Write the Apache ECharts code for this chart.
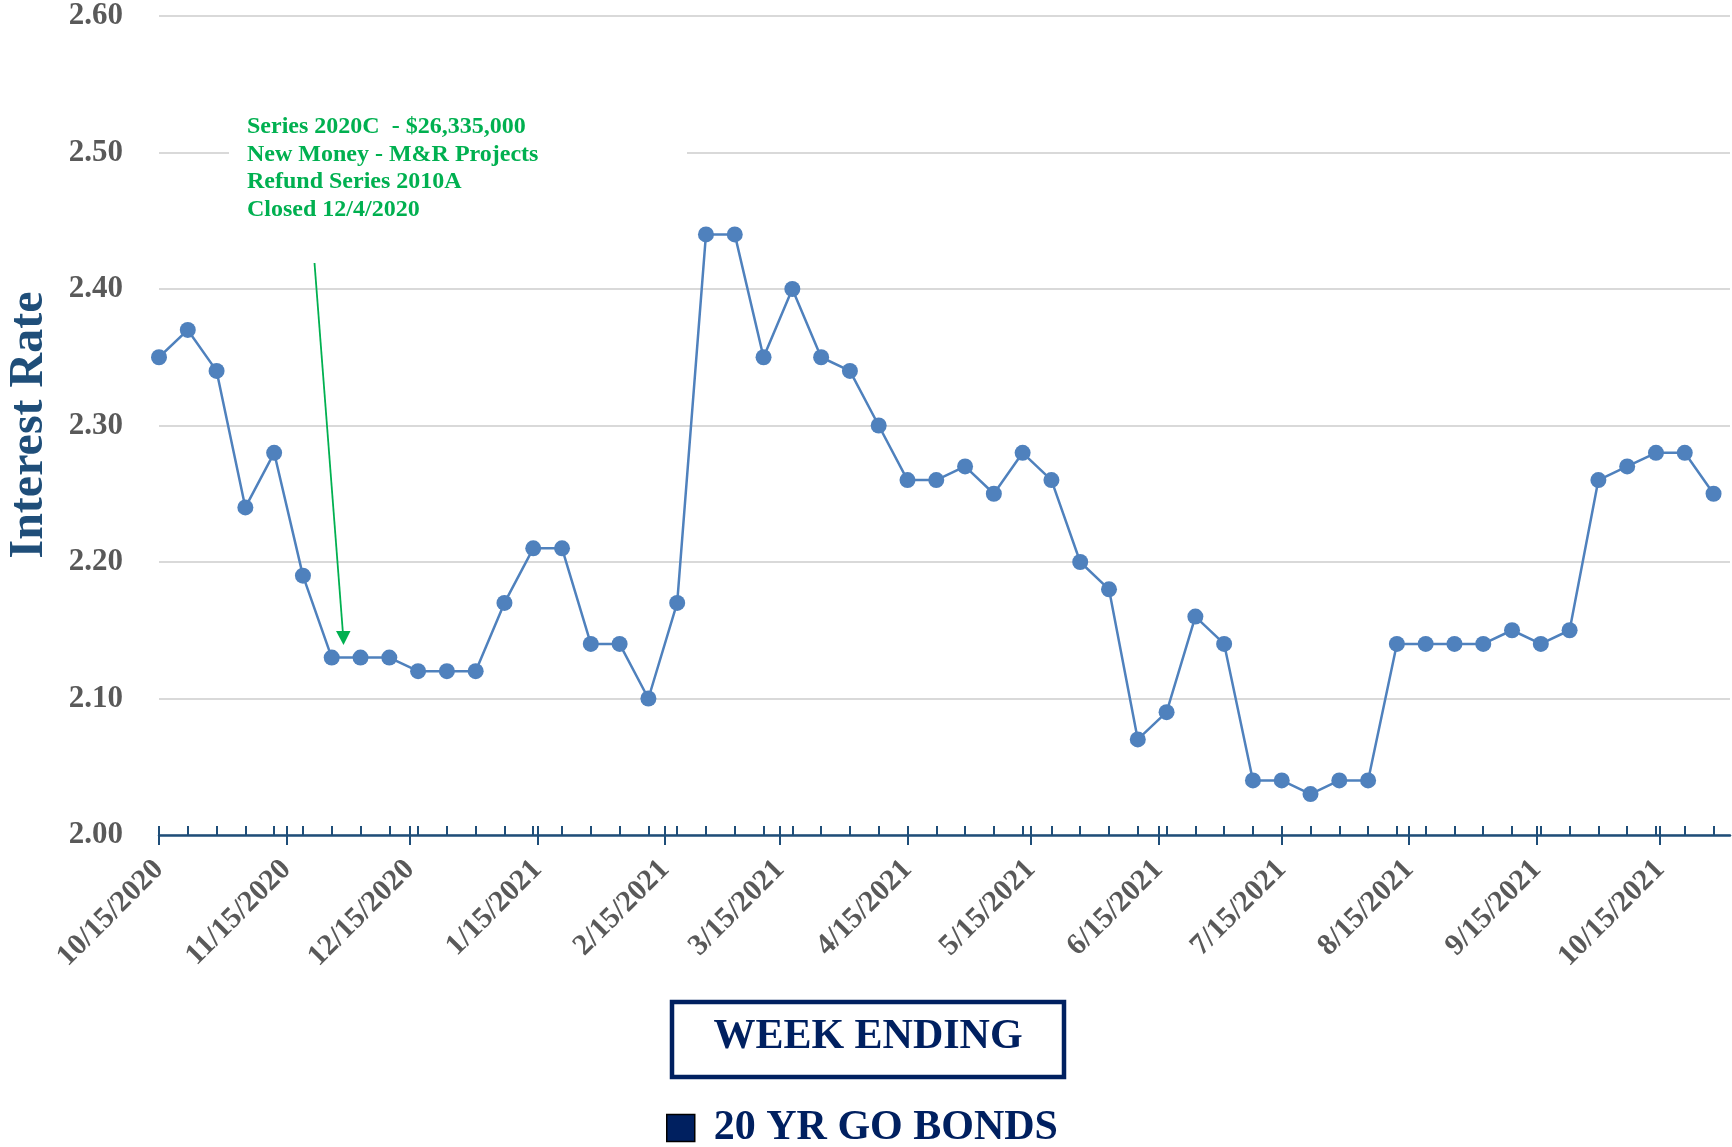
<!DOCTYPE html>
<html>
<head>
<meta charset="utf-8">
<script src="https://cdn.jsdelivr.net/npm/echarts@6/dist/echarts.min.js"></script>
<style>
html, body { margin: 0; padding: 0; background: #fff; }
#chart { width: 1732px; height: 1147px; }
</style>
</head>
<body>
<div id="chart"></div>
<script>
// weekly 20 yr GO bond rates, week ending thursdays starting 10/15/2020
const rates = [
  2.35, 2.37, 2.34, 2.24, 2.28, 2.19, 2.13, 2.13, 2.13, 2.12,
  2.12, 2.12, 2.17, 2.21, 2.21, 2.14, 2.14, 2.10, 2.17, 2.44,
  2.44, 2.35, 2.40, 2.35, 2.34, 2.30, 2.26, 2.26, 2.27, 2.25,
  2.28, 2.26, 2.20, 2.18, 2.07, 2.09, 2.16, 2.14, 2.04, 2.04,
  2.03, 2.04, 2.04, 2.14, 2.14, 2.14, 2.14, 2.15, 2.14, 2.15,
  2.26, 2.27, 2.28, 2.28, 2.25
];
const monthTicks = [
  '10/15/2020', '11/15/2020', '12/15/2020', '1/15/2021', '2/15/2021',
  '3/15/2021', '4/15/2021', '5/15/2021', '6/15/2021', '7/15/2021',
  '8/15/2021', '9/15/2021', '10/15/2021'
];
const yTicks = [2.00, 2.10, 2.20, 2.30, 2.40, 2.50, 2.60];
const noteLines = [
  'Series 2020C  - $26,335,000',
  'New Money - M&R Projects',
  'Refund Series 2010A',
  'Closed 12/4/2020'
];
const seriesName = '20 YR GO BONDS';

const FONT = 'Liberation Serif';
const NAVY = '#002060';
const DAY = 86400000;
const start = Date.UTC(2020, 9, 15);
const axisDays = 383; // 10/15/2020 .. 11/1/2021

function iso(t) {
  var d = new Date(t);
  return d.getUTCFullYear() + '-' + String(d.getUTCMonth() + 1).padStart(2, '0') + '-' + String(d.getUTCDate()).padStart(2, '0');
}
function mdy(v) {
  var p = v.split('-');
  return (+p[1]) + '/' + (+p[2]) + '/' + p[0];
}

var days = [];
for (let i = 0; i < axisDays; i++) { days.push(iso(start + i * DAY)); }
var weekEnding = rates.map((v, i) => iso(start + i * 7 * DAY));
var isMonthTick = (i, v) => monthTicks.indexOf(mdy(v)) >= 0;

var chart = echarts.init(document.getElementById('chart'), null, { renderer: 'canvas' });

var option = {
  animation: false,
  backgroundColor: '#fff',
  grid: { left: 159, right: 2, top: 16, bottom: 312, containLabel: false },
  xAxis: [
    {
      type: 'category',
      data: days,
      boundaryGap: false,
      axisLine: { lineStyle: { color: '#1f4e79', width: 2.5 } },
      axisTick: { show: true, inside: false, length: 10, interval: isMonthTick, lineStyle: { color: '#1f4e79', width: 2 } },
      axisLabel: {
        interval: isMonthTick, rotate: 45, margin: 30, formatter: mdy,
        color: '#595959', fontFamily: FONT, fontWeight: 'bold', fontSize: 30
      },
      splitLine: { show: false }
    },
    {
      type: 'category',
      data: days,
      position: 'bottom',
      offset: 0,
      boundaryGap: false,
      axisLine: { show: false },
      axisTick: { show: true, inside: true, length: 9, interval: (i, v) => i % 7 === 0 || isMonthTick(i, v), lineStyle: { color: '#1f4e79', width: 2 } },
      axisLabel: { show: false },
      splitLine: { show: false }
    }
  ],
  yAxis: {
    type: 'value',
    min: yTicks[0],
    max: yTicks[yTicks.length - 1],
    interval: 0.1,
    axisLine: { show: false },
    axisTick: { show: false },
    axisLabel: {
      margin: 36, formatter: (v) => v.toFixed(2),
      color: '#595959', fontFamily: FONT, fontWeight: 'bold', fontSize: 31
    },
    splitLine: { lineStyle: { color: '#d9d9d9', width: 2 } }
  },
  legend: {
    left: 661,
    top: 1102,
    itemWidth: 28,
    itemHeight: 27,
    data: [{ name: seriesName, icon: 'rect', itemStyle: { color: NAVY, borderColor: '#000', borderWidth: 1.5 } }],
    textStyle: { color: NAVY, fontFamily: FONT, fontWeight: 'bold', fontSize: 42, padding: [0, 0, 0, 14] }
  },
  series: [{
    name: seriesName,
    type: 'line',
    xAxisIndex: 0,
    data: weekEnding.map((d, i) => [d, rates[i]]),
    symbol: 'circle',
    symbolSize: 16,
    showSymbol: true,
    showAllSymbol: true,
    itemStyle: { color: '#4f81bd' },
    lineStyle: { color: '#4f81bd', width: 2.5 },
    z: 5
  }],
  graphic: [
    // y axis title
    {
      type: 'text', x: 30, y: 425, rotation: Math.PI / 2,
      style: { text: 'Interest Rate', fill: '#1f4e79', font: 'bold 48px "' + FONT + '"', align: 'center', verticalAlign: 'middle' }
    },
    // annotation with white backing that hides the 2.50 gridline
    { type: 'rect', shape: { x: 229, y: 106, width: 458, height: 118 }, style: { fill: '#fff' }, z: 10 },
    {
      type: 'text', x: 247, y: 113, z: 11,
      style: { text: noteLines.join('\n'), fill: '#00b050', font: 'bold 24px "' + FONT + '"', lineHeight: 27.6 }
    },
    { type: 'line', shape: { x1: 314.5, y1: 263, x2: 343, y2: 634 }, style: { stroke: '#00b050', lineWidth: 1.8 }, z: 11 },
    { type: 'polygon', shape: { points: [[336, 631], [350.5, 631], [343.5, 645]] }, style: { fill: '#00b050' }, z: 11 },
    // x axis title box
    { type: 'rect', shape: { x: 672, y: 1002, width: 392, height: 75 }, style: { fill: '#fff', stroke: NAVY, lineWidth: 4.5 } },
    {
      type: 'text', x: 868, y: 1037,
      style: { text: 'WEEK ENDING', fill: NAVY, font: 'bold 42px "' + FONT + '"', align: 'center', verticalAlign: 'middle' }
    }
  ]
};
chart.setOption(option);
</script>
</body>
</html>
